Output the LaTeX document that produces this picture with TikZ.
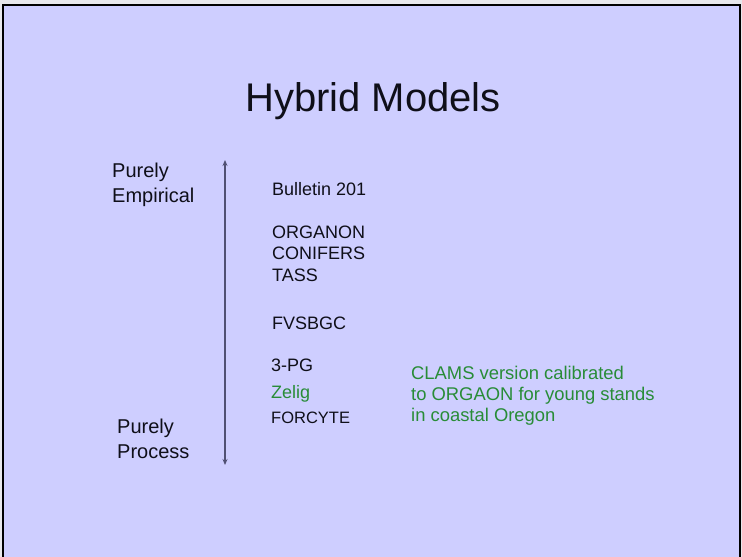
\documentclass[tikz,border=0pt]{standalone}
\usepackage{fontspec}
\setmainfont{Liberation Sans}
\usetikzlibrary{arrows.meta}
\definecolor{slidebg}{RGB}{206,206,255}
\definecolor{outerbg}{RGB}{232,232,236}
\definecolor{txt}{RGB}{15,15,25}
\definecolor{grn}{RGB}{40,140,55}
\definecolor{axis}{RGB}{80,80,115}
\tikzset{
  lbl/.style={anchor=base west, inner sep=0pt, text=txt, align=left},
  item/.style={lbl, font=\fontsize{18}{21.5}\selectfont},
  side/.style={lbl, font=\fontsize{20}{25}\selectfont},
  note/.style={lbl, text=grn, font=\fontsize{18.4}{21}\selectfont},
}
\begin{document}
\begin{tikzpicture}[x=1pt,y=-1pt]
\useasboundingbox (0,0) rectangle (742,557);
\fill[outerbg] (0,0) rectangle (742,557);
\fill[slidebg] (3,5) rectangle (740,560);
\draw[black, line width=2.2pt] (3,565) -- (3,5) -- (740,5) -- (740,565);
% title
\node[anchor=base, inner sep=0pt, text=txt, font=\fontsize{40}{44}\selectfont] (title) at (373,111) {Hybrid Models};
% side labels (anchor at baseline of last line)
\node[side] (emp) at (112,202) {Purely\\Empirical};
\node[side] (proc) at (117,458) {Purely\\Process};
% axis
\coordinate (axtop) at (225,160);
\coordinate (axbot) at (225,465);
\draw[axis, line width=1.4pt, {Stealth[length=6pt,width=5pt]}-{Stealth[length=6pt,width=5pt]}] (axtop) -- (axbot);
% models
\node[item] (bul) at (272,195) {Bulletin 201};
\node[item] (org) at (272,281) {ORGANON\\CONIFERS\\TASS};
\node[item] (fvs) at (272,329) {FVSBGC};
\node[item] (pg) at (271,371) {3-PG};
\node[item, text=grn] (zel) at (271,398) {Zelig};
\node[lbl, font=\fontsize{16.5}{20}\selectfont] (forc) at (271,423) {FORCYTE};
% note
\node[note] (clams) at (411,421) {CLAMS version calibrated\\to ORGAON for young stands\\in coastal Oregon};
\end{tikzpicture}
\end{document}
